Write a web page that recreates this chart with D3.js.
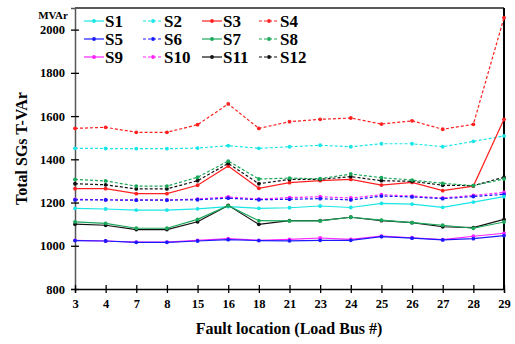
<!DOCTYPE html>
<html>
<head>
<meta charset="utf-8">
<script src="https://cdn.jsdelivr.net/npm/d3@7"></script>
<style>
  body { margin: 0; background: #fff; }
  svg { display: block; }
  svg text { font-family: "Liberation Serif", "Times New Roman", serif; font-weight: bold; fill: #000; }
</style>
</head>
<body>
<svg id="chart" width="515" height="344"></svg>
<script>
// fault location categories (load bus number)
const buses = ['3', '4', '7', '8', '15', '16', '18', '21', '23', '24', '25', '26', '27', '28', '29'];
const yTicks = [800, 1000, 1200, 1400, 1600, 1800, 2000];

const S1  = [1173, 1170, 1165, 1165, 1171, 1181, 1173, 1176, 1184, 1177, 1196, 1193, 1178, 1202, 1227];
const S2  = [1451, 1450, 1449, 1449, 1452, 1463, 1451, 1458, 1465, 1458, 1472, 1472, 1458, 1483, 1508];
const S3  = [1264, 1264, 1241, 1241, 1280, 1369, 1266, 1292, 1301, 1307, 1281, 1293, 1255, 1276, 1585];
const S4  = [1543, 1548, 1525, 1525, 1560, 1656, 1543, 1574, 1585, 1591, 1563, 1578, 1539, 1562, 2055];
const S5  = [1024, 1022, 1016, 1016, 1022, 1028, 1024, 1023, 1025, 1025, 1042, 1035, 1027, 1033, 1047];
const S6  = [1212, 1212, 1211, 1211, 1213, 1220, 1213, 1215, 1218, 1212, 1230, 1226, 1218, 1228, 1238];
const S7  = [1111, 1104, 1081, 1081, 1122, 1185, 1116, 1115, 1115, 1132, 1119, 1107, 1095, 1081, 1110];
const S8  = [1307, 1300, 1276, 1276, 1317, 1392, 1309, 1313, 1310, 1332, 1315, 1304, 1289, 1278, 1309];
const S9  = [1025, 1022, 1017, 1017, 1025, 1033, 1025, 1030, 1036, 1030, 1045, 1037, 1028, 1044, 1058];
const S10 = [1215, 1213, 1212, 1212, 1216, 1226, 1216, 1223, 1227, 1221, 1236, 1230, 1221, 1233, 1247];
const S11 = [1100, 1095, 1075, 1075, 1111, 1187, 1099, 1116, 1116, 1132, 1116, 1107, 1088, 1084, 1122];
const S12 = [1287, 1282, 1263, 1263, 1301, 1381, 1287, 1307, 1307, 1320, 1301, 1298, 1280, 1278, 1317];

const seriesNames = ['S1', 'S2', 'S3', 'S4', 'S5', 'S6', 'S7', 'S8', 'S9', 'S10', 'S11', 'S12'];
const seriesValues = [S1, S2, S3, S4, S5, S6, S7, S8, S9, S10, S11, S12];
const seriesColors = ['#19e6e6', '#19e6e6', '#ff2020', '#ff2020', '#1a1aff', '#1a1aff',
                      '#1aa85a', '#1aa85a', '#ff22ff', '#ff22ff', '#111111', '#111111'];
const dashed = [false, true, false, true, false, true, false, true, false, true, false, true];

const svg = d3.select('#chart');
const plotLeft = 75, plotRight = 504, plotTop = 8, plotBottom = 289;

const x = d3.scalePoint().domain(buses).range([plotLeft, plotRight]);
const y = d3.scaleLinear().domain([800, 2100]).range([plotBottom, plotTop]);

// frame (top + right)
svg.append('line').attr('x1', plotLeft).attr('x2', plotRight).attr('y1', plotTop).attr('y2', plotTop)
  .attr('stroke', '#222').attr('stroke-width', 1.3);
svg.append('line').attr('x1', plotRight).attr('x2', plotRight).attr('y1', plotTop).attr('y2', plotBottom)
  .attr('stroke', '#000').attr('stroke-width', 2);

// axes
const yAxis = svg.append('g').attr('transform', `translate(${plotLeft},0)`)
  .call(d3.axisLeft(y).tickValues(yTicks).tickFormat(d3.format('d')).tickSize(4).tickPadding(6));
const xAxis = svg.append('g').attr('transform', `translate(0,${plotBottom})`)
  .call(d3.axisBottom(x).tickSize(4).tickPadding(6));

yAxis.select('.domain').attr('stroke', '#555').attr('stroke-width', 1.5);
xAxis.select('.domain').attr('stroke', '#000').attr('stroke-width', 1.3);
// ticks cross the axis line
yAxis.selectAll('.tick line').attr('x1', 4).attr('x2', -4).attr('stroke', '#000').attr('stroke-width', 1.3);
xAxis.selectAll('.tick line').attr('y1', -4).attr('y2', 4).attr('stroke', '#000').attr('stroke-width', 1.3);
svg.selectAll('.tick text').attr('font-size', 12.5);

// axis labels
svg.append('text').attr('x', 53).attr('y', 19).attr('text-anchor', 'middle')
  .attr('font-size', 11).text('MVAr');
svg.append('text').attr('transform', `translate(27,${(plotTop + plotBottom) / 2}) rotate(-90)`)
  .attr('text-anchor', 'middle').attr('font-size', 16).text('Total SGs T-VAr');
svg.append('text').attr('x', 289).attr('y', 334).attr('text-anchor', 'middle')
  .attr('font-size', 16).text('Fault location (Load Bus #)');

// series
const line = d3.line().x((d, i) => x(buses[i])).y(d => y(d));
const drawOrder = [8, 4, 9, 5, 0, 1, 10, 6, 2, 11, 7, 3];
drawOrder.forEach(k => {
  const g = svg.append('g');
  g.append('path').datum(seriesValues[k]).attr('d', line)
    .attr('fill', 'none').attr('stroke', seriesColors[k]).attr('stroke-width', 1.2)
    .attr('stroke-dasharray', dashed[k] ? '3,2' : null);
  g.selectAll('circle').data(seriesValues[k]).join('circle')
    .attr('cx', (d, i) => x(buses[i])).attr('cy', d => y(d)).attr('r', 1.9)
    .attr('fill', seriesColors[k]);
});

// legend: 4 columns x 3 rows
const legendX = [84, 143, 202, 259];
const legendY = [21, 39, 57];
seriesNames.forEach((name, k) => {
  const lx = legendX[k % 4], ly = legendY[Math.floor(k / 4)];
  const g = svg.append('g');
  g.append('line').attr('x1', lx).attr('x2', lx + 20).attr('y1', ly).attr('y2', ly)
    .attr('stroke', seriesColors[k]).attr('stroke-width', 1.2)
    .attr('stroke-dasharray', dashed[k] ? '3,2' : null);
  g.append('circle').attr('cx', lx + 10).attr('cy', ly).attr('r', 1.9).attr('fill', seriesColors[k]);
  g.append('text').attr('x', lx + 21).attr('y', ly + 6).attr('font-size', 17).text(name);
});
</script>
</body>
</html>
